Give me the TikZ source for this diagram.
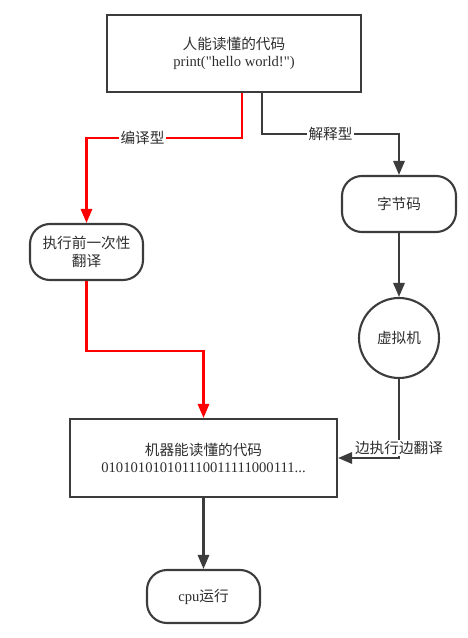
\documentclass[tikz,border=0pt]{standalone}
\usepackage{fontspec}
\setmainfont{Liberation Serif}
\newfontfamily\cjk{Noto Sans CJK SC}
\usepackage{xcolor}
\usepackage{tikz}
\usetikzlibrary{arrows.meta, positioning, shapes.geometric}
\definecolor{linegray}{HTML}{3C3C3C}
\definecolor{textgray}{HTML}{2E2E2E}

\begin{document}
\begin{tikzpicture}[node distance=1.5cm, >={Triangle[length=4.2mm, width=3.4mm]}, font=\fontsize{12.5}{15}\selectfont, text=textgray]
    % Styles
    \tikzstyle{codebox} = [rectangle, draw=linegray, line width=1.8pt, align=center, inner sep=0pt]
    \tikzstyle{roundbox} = [rectangle, draw=linegray, line width=1.8pt, rounded corners=0.6cm, align=center, minimum width=3.39cm, minimum height=1.68cm, inner sep=0pt]
    \tikzstyle{vmcircle} = [circle, draw=linegray, line width=1.8pt, minimum size=2.4cm, inner sep=0pt]
    \tikzstyle{line} = [draw=linegray, ->, line width=1.8pt]
    \tikzstyle{redline} = [draw=red, ->, line width=1.8pt]
    \tikzstyle{tag} = [fill=white, inner sep=1pt]

    \useasboundingbox (0,0) rectangle (14.04,-19.14);

    % Nodes
    \node [codebox, minimum width=7.62cm, minimum height=2.31cm] (human) at (7.02,-1.605) {{\cjk 人能读懂的代码}\\print(\textquotedbl hello world!\textquotedbl)};
    \node [roundbox] (compile) at (2.595,-7.56) {{\cjk 执行前一次性}\\[1pt]{\cjk 翻译}};
    \node [roundbox, minimum width=3.42cm] (bytecode) at (11.97,-6.12) {\cjk 字节码};
    \node [vmcircle, below of=bytecode, node distance=4.02cm] (vm) {\cjk 虚拟机};
    \node [codebox, minimum width=8.01cm, minimum height=2.34cm] (machine) at (6.105,-13.74) {{\cjk 机器能读懂的代码}\\010101010101110011111000111...};
    \node [roundbox, minimum height=1.59cm, below of=machine, node distance=4.155cm] (cpu) {cpu{\cjk 运行}};

    % Paths
    \path [redline] ([xshift=0.24cm]human.south) -- ++(0,-1.35) -| node[tag, pos=0.32] {\cjk 编译型} (compile.north);
    \path [line] ([xshift=0.84cm]human.south) -- ++(0,-1.23) -| node[tag, pos=0.25] {\cjk 解释型} (bytecode.north);
    \path [line] (bytecode) -- (vm);
    \path [redline] (compile.south) -- ++(0,-2.1) -| (machine.north);
    \path [line] (vm) |- node[tag, pos=0.5, above, yshift=1pt] {\cjk 边执行边翻译} (machine.east);
    \path [line] (machine) -- (cpu);
\end{tikzpicture}
\end{document}
